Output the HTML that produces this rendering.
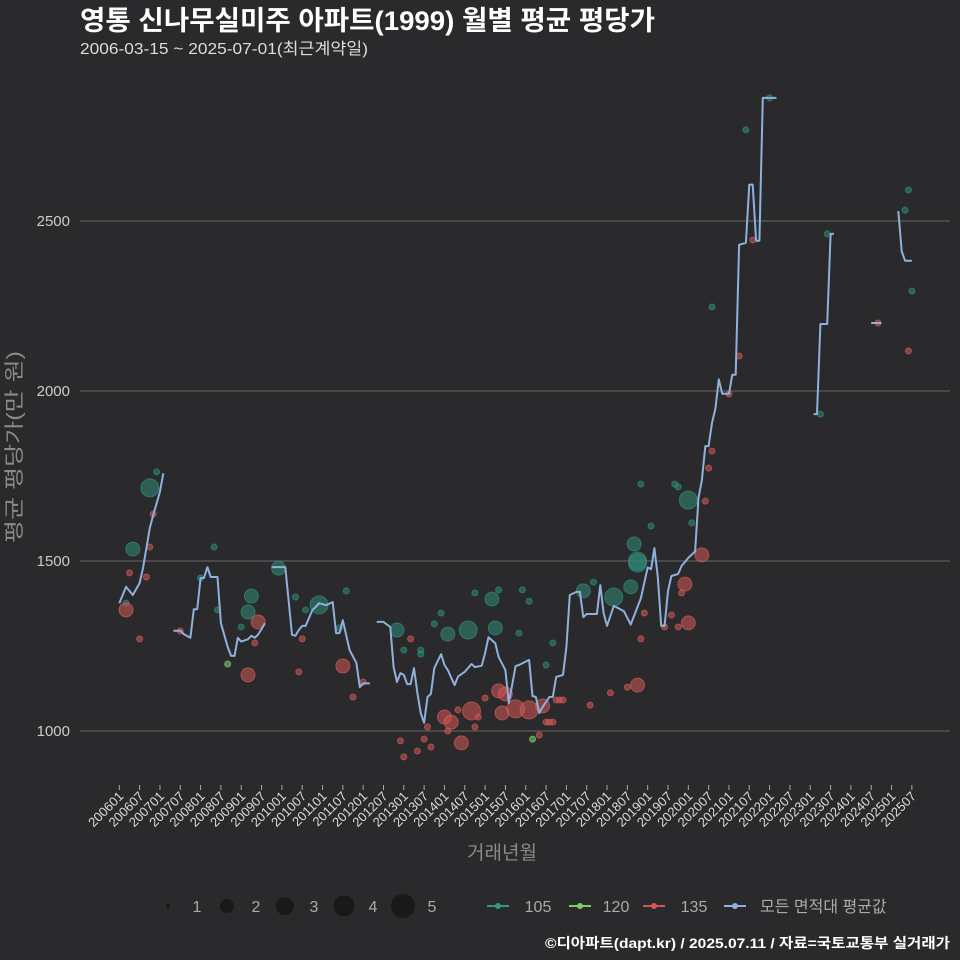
<!DOCTYPE html>
<html><head><meta charset="utf-8">
<style>
html,body{margin:0;padding:0;background:#2a2a2c;}
svg{display:block;font-family:"Liberation Sans","Noto Sans CJK KR",sans-serif;}
</style></head>
<body>
<svg id="chart" width="960" height="960" viewBox="0 0 960 960">
<rect x="0" y="0" width="960" height="960" fill="#2a2a2c"/>
<text x="80" y="30" fill="#ffffff" font-size="27" font-weight="bold" textLength="575" lengthAdjust="spacingAndGlyphs">영통 신나무실미주 아파트(1999) 월별 평균 평당가</text>
<text x="80" y="54" fill="#dddddd" font-size="16" textLength="288" lengthAdjust="spacingAndGlyphs">2006-03-15 ~ 2025-07-01(최근계약일)</text>
<g id="grid"></g>
<g id="yaxis"></g>
<g id="xaxis"></g>
<g id="points"></g>
<g id="line"></g>
<text x="0" y="0" transform="translate(21,447) rotate(-90)" text-anchor="middle" fill="#8a8a8a" font-size="20" textLength="192" lengthAdjust="spacingAndGlyphs">평균 평당가(만 원)</text>
<text x="502" y="859" text-anchor="middle" fill="#8a8a8a" font-size="19">거래년월</text>
<g id="legend"></g>
<text x="950" y="948" text-anchor="end" fill="#ffffff" font-size="14" font-weight="bold" textLength="405" lengthAdjust="spacingAndGlyphs">©디아파트(dapt.kr) / 2025.07.11 / 자료=국토교통부 실거래가</text>
</svg>
<script>
// months since 2006-01
const yTicks = [1000, 1500, 2000, 2500];
const lineMonths = [0,2,4,6,7,9,10,12,13,null,
16,18,19,21,22,23,24,25,26,27,29,30,32,33,34,35,36,38,39,40,41,42,43,null,
45,49,51,52,53,54,55,57,58,59,61,63,64,65,66,68,70,71,72,74,null,
76,78,80,81,82,83,84,85,86,87,88,89,90,91,92,93,95,96,97,99,100,102,104,105,107,108,109,111,112,114,115,117,118,121,122,123,124,125,127,128,129,131,132,133,135,136,137,138,141,142,143,144,146,149,151,154,156,157,158,159,160,161,162,163,165,166,167,168,170,171,172,173,174,175,176,177,178,180,181,182,183,185,186,187,188,189,190,194,null,
205,206,207,209,210,211,null,
222,225,null,
230,231,232,234];
const lineValues = [1376,1424,1400,1435,1479,1597,1635,1703,1758,null,
1295,1295,1285,1274,1358,1358,1450,1450,1482,1453,1453,1317,1247,1221,1221,1274,1263,1270,1280,1274,1284,1300,1317,null,
1482,1482,1283,1280,1297,1309,1309,1356,1365,1376,1370,1379,1288,1288,1326,1238,1200,1129,1140,1140,null,
1321,1321,1306,1188,1144,1170,1165,1138,1138,1185,1112,1053,1024,1100,1109,1185,1226,1194,1179,1135,1160,1174,1197,1188,1192,1229,1276,1258,1218,1179,1082,1191,1194,1209,1103,1100,1053,1071,1100,1100,1159,1165,1247,1400,1409,1409,1335,1344,1344,1429,1347,1309,1368,1352,1313,1391,1481,1476,1538,1453,1309,1309,1412,1456,1462,1485,1497,1509,1528,1686,1738,1838,1838,1906,1948,2034,1992,1992,2048,2048,2430,2436,2607,2607,2442,2442,2862,2862,null,
1932,1932,2197,2197,2462,2462,null,
2200,2200,null,
2529,2411,2383,2383];
const s105Months = [4,9,11,2,39,38,36,28,29,24,47,52,59,55,67,65,82,84,89,97,103,110,111,105,112,119,121,118,95,93,89,128,126,137,140,146,151,153,152,153,154,157,164,165,168,169,175,185,192,209,207,233,232,234];
const s105Values = [1535,1715,1762,1376,1397,1350,1306,1541,1356,1450,1479,1394,1371,1356,1412,1303,1297,1238,1238,1285,1297,1388,1303,1406,1415,1415,1382,1288,1347,1315,1226,1259,1194,1412,1438,1394,1424,1494,1550,1500,1726,1603,1726,1718,1679,1612,2247,2768,2862,2462,1932,2591,2532,2294];
const s105Counts = [2,3,1,1,2,2,1,1,1,1,2,1,3,1,1,1,2,1,1,2,3,2,2,1,1,1,1,1,1,1,1,1,1,2,1,3,2,3,2,3,1,1,1,1,3,1,1,1,1,1,1,1,1,1];
const s120Months = [32,122];
const s120Values = [1197,976];
const s120Counts = [1,1];
const s135Months = [2,3,8,9,10,6,18,41,38,40,54,53,66,69,72,86,112,114,104,101,96,98,113,117,121,125,108,100,106,105,91,97,83,90,92,88,84,124,126,127,128,129,130,131,139,145,150,153,154,155,172,167,168,166,163,165,161,173,174,175,183,180,187,224,233];
const s135Values = [1356,1465,1453,1541,1638,1271,1294,1321,1165,1259,1271,1174,1191,1100,1144,1271,1118,1109,1059,965,1041,1026,1053,1065,1062,1074,1097,1062,1041,1012,1012,1000,971,976,953,941,924,988,1026,1026,1026,1091,1091,1091,1076,1112,1129,1135,1271,1347,1518,1432,1318,1406,1341,1306,1306,1676,1773,1823,2103,1991,2444,2200,2118];
const s135Counts = [2,1,1,1,1,1,1,2,2,1,1,1,2,1,1,1,2,2,3,2,2,2,2,3,3,2,1,1,1,1,1,1,1,1,1,1,1,1,1,1,1,1,1,1,1,1,1,2,1,1,2,2,2,1,1,1,1,1,1,1,1,1,1,1,1];
const tickYears = [2006,2007,2008,2009,2010,2011,2012,2013,2014,2015,2016,2017,2018,2019,2020,2021,2022,2023,2024,2025];

const NS = "http://www.w3.org/2000/svg";
const X0 = 119.3, PXM = 3.387;
function xScale(m){ return X0 + m*PXM; }
function yScale(v){ return 731 - (v-1000)*0.34; }
function mk(tag, attrs, parent){ const e=document.createElementNS(NS,tag); for(const k in attrs) e.setAttribute(k, attrs[k]); parent.appendChild(e); return e; }
function rad(c){ return [0,3,7,9,10.5,12][c]; }

const grid = document.getElementById('grid'), yax = document.getElementById('yaxis');
yTicks.forEach(v=>{
  const l = mk('line',{x1:80,x2:950,y1:yScale(v),y2:yScale(v),stroke:'#5c5c5c','stroke-width':1.2},grid);
  
  
  const t = mk('text',{x:70,y:yScale(v)+5,'text-anchor':'end',fill:'#cccccc','font-size':15},yax);
  t.textContent = v;
  
  
});

const xax = document.getElementById('xaxis');
tickYears.forEach((yr,i)=>{
  [1,7].forEach(mo=>{
    const m = i*12 + (mo-1);
    const x = xScale(m);
    const tk = mk('line',{x1:x,x2:x,y1:785,y2:790,stroke:'#aaaaaa','stroke-width':1},xax);
    
    
    const t = mk('text',{x:0,y:0,transform:`translate(${x+5},${797}) rotate(-45)`,'text-anchor':'end',fill:'#dddddd','font-size':13},xax);
    t.textContent = yr + (mo<10?'0':'') + mo;
    
    
  });
});

const pts = document.getElementById('points');
function drawPoints(ms, vs, cs, fill, stroke, name){
  ms.forEach((m,i)=>{
    const c = mk('circle',{cx:xScale(m),cy:yScale(vs[i]),r:rad(cs[i]),fill:fill,'fill-opacity':0.55,stroke:stroke,'stroke-opacity':0.6,'stroke-width':1},pts);
    
    
  });
}
drawPoints(s105Months,s105Values,s105Counts,'#2f8a78','#2f9a84','point-105');
drawPoints(s120Months,s120Values,s120Counts,'#7ccf6a','#8ee07a','point-120');
drawPoints(s135Months,s135Values,s135Counts,'#d45555','#e06060','point-135');

const lg = document.getElementById('line');
let d = '', start = true;
lineMonths.forEach((m,i)=>{
  if(m===null){ start=true; return; }
  d += (start?'M':'L') + xScale(m).toFixed(1) + ',' + yScale(lineValues[i]).toFixed(1) + ' ';
  start=false;
});
const p = mk('path',{d:d,fill:'none',stroke:'#8fb1dc','stroke-width':2,'stroke-linejoin':'round'},lg);



const leg = document.getElementById('legend');
const sizeX = [168,227,285,344,403];
sizeX.forEach((x,i)=>{
  const c = mk('circle',{cx:x,cy:906,r:[2,7,9,10.5,12][i],fill:'#151515','fill-opacity':0.8},leg);
  
  
  const t = mk('text',{x:x+29,y:912,fill:'#aaaaaa','font-size':16,'text-anchor':'middle'},leg);
  t.textContent = String(i+1);
  
  
});
const items = [['105','#2f9a84',498,538],['120','#7ccf6a',580,616],['135','#d45555',654,694],['모든 면적대 평균값','#8fb1dc',735,760]];
items.forEach(it=>{
  const l = mk('line',{x1:it[2]-11,x2:it[2]+11,y1:906,y2:906,stroke:it[1],'stroke-width':2},leg);
  
  
  const c = mk('circle',{cx:it[2],cy:906,r:3,fill:it[1]},leg);
  
  
  const t = mk('text',{x:it[3],y:912,fill:'#aaaaaa','font-size':16,'text-anchor':it[0].length>3?'start':'middle'},leg);
  t.textContent = it[0];
  
  
});
</script>
</body></html>
